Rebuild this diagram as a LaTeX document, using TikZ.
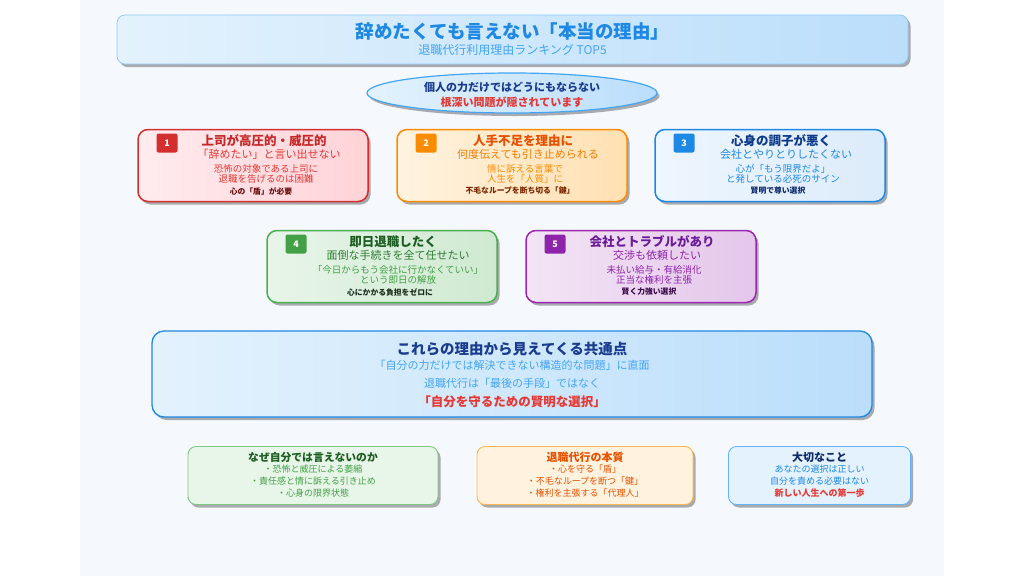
\documentclass[tikz,border=0pt]{standalone}
\usepackage{fontspec}
\setmainfont{Noto Sans CJK JP}
\usetikzlibrary{shapes.geometric, shadows, positioning}

\definecolor{panelbg}{HTML}{F5F9FE}
\definecolor{skyA}{HTML}{E3F2FD}
\definecolor{skyB}{HTML}{BBDEFB}
\definecolor{skyline}{HTML}{90CAF9}
\definecolor{blueA}{HTML}{1E88E5}
\definecolor{blueB}{HTML}{42A5F5}
\definecolor{navy}{HTML}{1A3C8F}
\definecolor{redA}{HTML}{D32F2F}
\definecolor{redT}{HTML}{C62828}
\definecolor{redS}{HTML}{E53935}
\definecolor{redK}{HTML}{6D0F0F}
\definecolor{redF1}{HTML}{FFEBEE}
\definecolor{redF2}{HTML}{FFD3D8}
\definecolor{orA}{HTML}{FB8C00}
\definecolor{orT}{HTML}{E65100}
\definecolor{orS}{HTML}{F57C00}
\definecolor{orK}{HTML}{7A2600}
\definecolor{orF1}{HTML}{FFF3E0}
\definecolor{orF2}{HTML}{FFE0B2}
\definecolor{buT}{HTML}{0D3A8A}
\definecolor{buK}{HTML}{0D2A6B}
\definecolor{buF1}{HTML}{EEF6FE}
\definecolor{buF2}{HTML}{DCEBFA}
\definecolor{grA}{HTML}{4CAF50}
\definecolor{grT}{HTML}{1B5E20}
\definecolor{grS}{HTML}{2E7D32}
\definecolor{grB}{HTML}{43A047}
\definecolor{grK}{HTML}{1B2E1B}
\definecolor{grF1}{HTML}{E8F5E9}
\definecolor{grF2}{HTML}{CFE9D1}
\definecolor{grL}{HTML}{81C784}
\definecolor{puA}{HTML}{9C27B0}
\definecolor{puT}{HTML}{6A1B9A}
\definecolor{puS}{HTML}{8E24AA}
\definecolor{puK}{HTML}{3A0A4A}
\definecolor{puF1}{HTML}{F3E5F5}
\definecolor{puF2}{HTML}{E4C6EA}
\definecolor{orL}{HTML}{FFB74D}
\definecolor{buL}{HTML}{64B5F6}

\begin{document}
\begin{tikzpicture}[
		x=1pt, y=-1pt,
		shade/.style={drop shadow={shadow xshift=2.5pt, shadow yshift=-3pt, opacity=0.45, fill=black!70}},
		banner/.style={draw=skyline, line width=0.8pt, rounded corners=8pt, left color=skyA, right color=skyB, outer sep=0pt, shade},
		card/.style={draw, line width=1.5pt, rounded corners=10pt, minimum width=230pt, minimum height=72pt, outer sep=0pt, shade},
		badge/.style={rounded corners=2pt, minimum width=21pt, minimum height=19pt, inner sep=0pt, text=white, font=\fontsize{9}{9}\selectfont\bfseries},
		head/.style={inner sep=0pt, font=\fontsize{12.5}{13}\selectfont\bfseries},
		subline/.style={inner sep=0pt, font=\fontsize{11}{12}\selectfont},
		bodyline/.style={inner sep=0pt, align=center, font=\fontsize{9.5}{9.6}\selectfont},
		keyline/.style={inner sep=0pt, font=\fontsize{7.8}{8}\selectfont\bfseries},
		note/.style={draw, line width=0.9pt, rounded corners=8pt, minimum height=58pt, outer sep=0pt, shade},
		notelines/.style={inner sep=0pt, align=center, font=\fontsize{9}{12}\selectfont}
		]
		
		\useasboundingbox (0,0) rectangle (1024,576);
		\fill[white] (0,0) rectangle (1024,576);
		\fill[panelbg] (80,0) rectangle (944,576);
		
		% Title
		\node[banner, minimum width=791pt, minimum height=49pt] (title) at (512.5,39.5) {};
		\node[inner sep=0pt, font=\fontsize{18.5}{19}\selectfont\bfseries, text=blueA] (maintext) at ([yshift=-16pt]title.north) {辞めたくても言えない「本当の理由」};
		\node[inner sep=0pt, font=\fontsize{12}{12}\selectfont, text=blueB, below=4pt of maintext] (subtext) {退職代行利用理由ランキング TOP5};
		
		% Hint
		\node[ellipse, draw=blueB, line width=1.2pt, left color=skyA, right color=skyB, minimum width=290pt, minimum height=40pt, shade] (hint) at (512,93) {};
		\node[inner sep=0pt, font=\fontsize{11}{11}\selectfont\bfseries, text=navy] (hinttop) at (512,87) {個人の力だけではどうにもならない};
		\node[inner sep=0pt, font=\fontsize{11}{11}\selectfont\bfseries, text=redS] (hintbot) at (512,102) {根深い問題が隠されています};
		
		% Reason 1
		\node[card, draw=redA, left color=redF1, right color=redF2] (r1) at (253,165.5) {};
		\node[badge, fill=redA] (r1n) at ([xshift=29pt, yshift=-13.5pt]r1.north west) {1};
		\node[head, text=redT] (r1h) at ([xshift=11pt, yshift=-11pt]r1.north) {上司が高圧的・威圧的};
		\node[subline, text=redS] (r1s) at ([xshift=16pt, yshift=-24.5pt]r1.north) {「辞めたい」と言い出せない};
		\node[bodyline, text=redS] (r1b) at ([xshift=13pt, yshift=-44.5pt]r1.north) {恐怖の対象である上司に\\退職を告げるのは困難};
		\node[keyline, text=redK] (r1k) at ([xshift=8pt, yshift=-61.5pt]r1.north) {心の「盾」が必要};
		
		% Reason 2
		\node[card, draw=orA, left color=orF1, right color=orF2, right=29pt of r1] (r2) {};
		\node[badge, fill=orA] (r2n) at ([xshift=29pt, yshift=-13.5pt]r2.north west) {2};
		\node[head, text=orT] (r2h) at ([xshift=11pt, yshift=-11pt]r2.north) {人手不足を理由に};
		\node[subline, text=orS] (r2s) at ([xshift=16pt, yshift=-24.5pt]r2.north) {何度伝えても引き止められる};
		\node[bodyline, text=orA] (r2b) at ([xshift=13pt, yshift=-44.5pt]r2.north) {情に訴える言葉で\\人生を「人質」に};
		\node[keyline, text=orK] (r2k) at ([xshift=8pt, yshift=-61.5pt]r2.north) {不毛なループを断ち切る「鍵」};
		
		% Reason 3
		\node[card, draw=blueA, left color=buF1, right color=buF2, right=28pt of r2] (r3) {};
		\node[badge, fill=blueA] (r3n) at ([xshift=29pt, yshift=-13.5pt]r3.north west) {3};
		\node[head, text=buT] (r3h) at ([xshift=11pt, yshift=-11pt]r3.north) {心身の調子が悪く};
		\node[subline, text=blueA] (r3s) at ([xshift=16pt, yshift=-24.5pt]r3.north) {会社とやりとりしたくない};
		\node[bodyline, text=blueA] (r3b) at ([xshift=13pt, yshift=-44.5pt]r3.north) {心が「もう限界だよ」\\と発している必死のサイン};
		\node[keyline, text=buK] (r3k) at ([xshift=8pt, yshift=-61.5pt]r3.north) {賢明で尊い選択};
		
		% Reason 4
		\node[card, draw=grA, left color=grF1, right color=grF2] (r4) at (382,266.5) {};
		\node[badge, fill=grB] (r4n) at ([xshift=29pt, yshift=-13.5pt]r4.north west) {4};
		\node[head, text=grT] (r4h) at ([xshift=11pt, yshift=-11pt]r4.north) {即日退職したく};
		\node[subline, text=grS] (r4s) at ([xshift=16pt, yshift=-24.5pt]r4.north) {面倒な手続きを全て任せたい};
		\node[bodyline, text=grB] (r4b) at ([xshift=16pt, yshift=-44.5pt]r4.north) {「今日からもう会社に行かなくていい」\\という即日の解放};
		\node[keyline, text=grK] (r4k) at ([xshift=8pt, yshift=-61.5pt]r4.north) {心にかかる負担をゼロに};
		
		% Reason 5
		\node[card, draw=puA, left color=puF1, right color=puF2, right=29pt of r4] (r5) {};
		\node[badge, fill=puS] (r5n) at ([xshift=29pt, yshift=-13.5pt]r5.north west) {5};
		\node[head, text=puT] (r5h) at ([xshift=11pt, yshift=-11pt]r5.north) {会社とトラブルがあり};
		\node[subline, text=puS] (r5s) at ([xshift=16pt, yshift=-24.5pt]r5.north) {交渉も依頼したい};
		\node[bodyline, text=puS] (r5b) at ([xshift=13pt, yshift=-44.5pt]r5.north) {未払い給与・有給消化\\正当な権利を主張};
		\node[keyline, text=puK] (r5k) at ([xshift=8pt, yshift=-61.5pt]r5.north) {賢く力強い選択};
		
		% Common ground
		\node[banner, draw=blueA, line width=1.3pt, rounded corners=12pt, minimum width=720pt, minimum height=86pt] (common) at (512,374) {};
		\node[inner sep=0pt, font=\fontsize{14.5}{15}\selectfont\bfseries, text=navy] (commonh) at ([yshift=-18pt]common.north) {これらの理由から見えてくる共通点};
		\node[inner sep=0pt, font=\fontsize{11}{11}\selectfont, text=blueB] (commona) at ([yshift=-34pt]common.north) {「自分の力だけでは解決できない構造的な問題」に直面};
		\node[inner sep=0pt, font=\fontsize{11}{11}\selectfont, text=blueB] (commonb) at ([yshift=-52pt]common.north) {退職代行は「最後の手段」ではなく};
		\node[inner sep=0pt, font=\fontsize{12.5}{13}\selectfont\bfseries, text=redS] (commonc) at ([yshift=-71pt]common.north) {「自分を守るための賢明な選択」};
		
		% Notes
		\node[note, draw=grL, fill=grF1, minimum width=250pt] (why) at (313,475.5) {};
		\node[inner sep=0pt, font=\fontsize{10.8}{11}\selectfont\bfseries, text=grT] (whyh) at ([yshift=-10.5pt]why.north) {なぜ自分では言えないのか};
		\node[notelines, text=grB] (whyb) at ([yshift=-34.5pt]why.north) {・恐怖と威圧による萎縮\\・責任感と情に訴える引き止め\\・心身の限界状態};
		
		\node[note, draw=orL, fill=orF1, minimum width=216pt] (core) at (585,475.5) {};
		\node[inner sep=0pt, font=\fontsize{11}{11}\selectfont\bfseries, text=orT] (coreh) at ([yshift=-10.5pt]core.north) {退職代行の本質};
		\node[notelines, text=orT] (coreb) at ([yshift=-34.5pt]core.north) {・心を守る「盾」\\・不毛なループを断つ「鍵」\\・権利を主張する「代理人」};
		
		\node[note, draw=buL, fill=skyA, minimum width=182pt] (keep) at (819.5,475.5) {};
		\node[inner sep=0pt, font=\fontsize{11}{11}\selectfont\bfseries, text=buK] (keeph) at ([yshift=-10.5pt]keep.north) {大切なこと};
		\node[notelines, text=blueA] (keepb) at ([yshift=-34.5pt]keep.north) {あなたの選択は正しい\\自分を責める必要はない\\\textcolor{redS}{\bfseries 新しい人生への第一歩}};
		
	\end{tikzpicture}
\end{document}
